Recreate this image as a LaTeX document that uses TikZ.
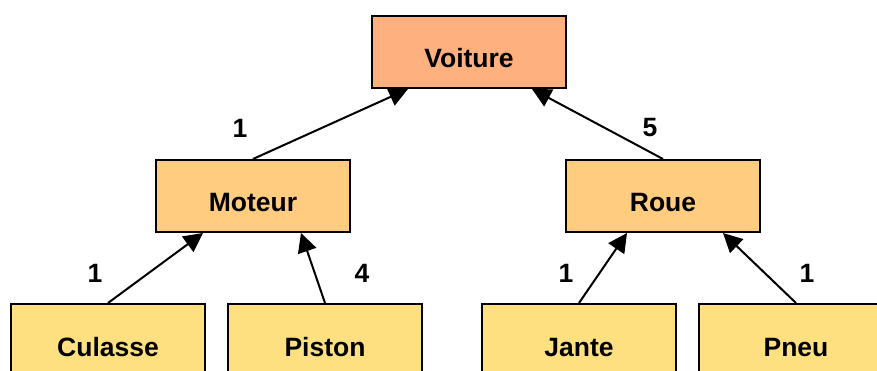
\documentclass[tikz,border=0pt]{standalone}
\usepackage{fontspec}
\setmainfont{Liberation Sans}
\usetikzlibrary{arrows.meta}
\definecolor{TopFill}{HTML}{FFB07F}
\definecolor{MidFill}{HTML}{FFCC80}
\definecolor{LowFill}{HTML}{FFE080}
\tikzset{
	partbox/.style={draw=black,line width=2pt,minimum width=194pt,minimum height=72pt,
		inner sep=0pt,text height=33pt,text depth=1pt,font=\fontsize{26.5}{30}\selectfont\bfseries},
	link/.style={line width=2pt,-{Triangle[length=19pt,width=19pt]}},
	qty/.style={font=\fontsize{26.5}{30}\selectfont\bfseries}
}
\begin{document}
\begin{tikzpicture}[x=1pt,y=-1pt]
				\useasboundingbox (0,0) rectangle (877,371);
				\clip (0,0) rectangle (877,371); % Clips the picture...
				% the assembly and its parts
				\node[partbox,fill=TopFill] (Voiture) at (469,52)  {Voiture};
				\node[partbox,fill=MidFill] (Moteur)  at (253,196) {Moteur};
				\node[partbox,fill=MidFill] (Roue)    at (663,196) {Roue};
				\node[partbox,fill=LowFill] (Culasse) at (108,340) {Culasse};
				\node[partbox,fill=LowFill] (Piston)  at (325,340) {Piston};
				\node[partbox,fill=LowFill] (Jante)   at (579,340) {Jante};
				\node[partbox,fill=LowFill] (Pneu)    at (796,340) {Pneu};
				
				\draw[link] (Moteur.north) -- ([xshift=-61pt]Voiture.south);
				\draw[link] (Roue.north) -- ([xshift=63pt]Voiture.south);
				\draw[link] (Culasse.north) -- ([xshift=-50pt]Moteur.south);
				\draw[link] (Piston.north) -- ([xshift=48pt]Moteur.south);
				\draw[link] (Jante.north) -- ([xshift=-36pt]Roue.south);
				\draw[link] (Pneu.north) -- ([xshift=60pt]Roue.south);
				
				% quantities
				\node[qty] (QtyMoteur)  at (240,128) {1};
				\node[qty] (QtyRoue)    at (650,128) {5};
				\node[qty] (QtyCulasse) at (95,273)  {1};
				\node[qty] (QtyPiston)  at (362,273) {4};
				\node[qty] (QtyJante)   at (566,273) {1};
				\node[qty] (QtyPneu)    at (807,273) {1};
		\end{tikzpicture}
\end{document}
